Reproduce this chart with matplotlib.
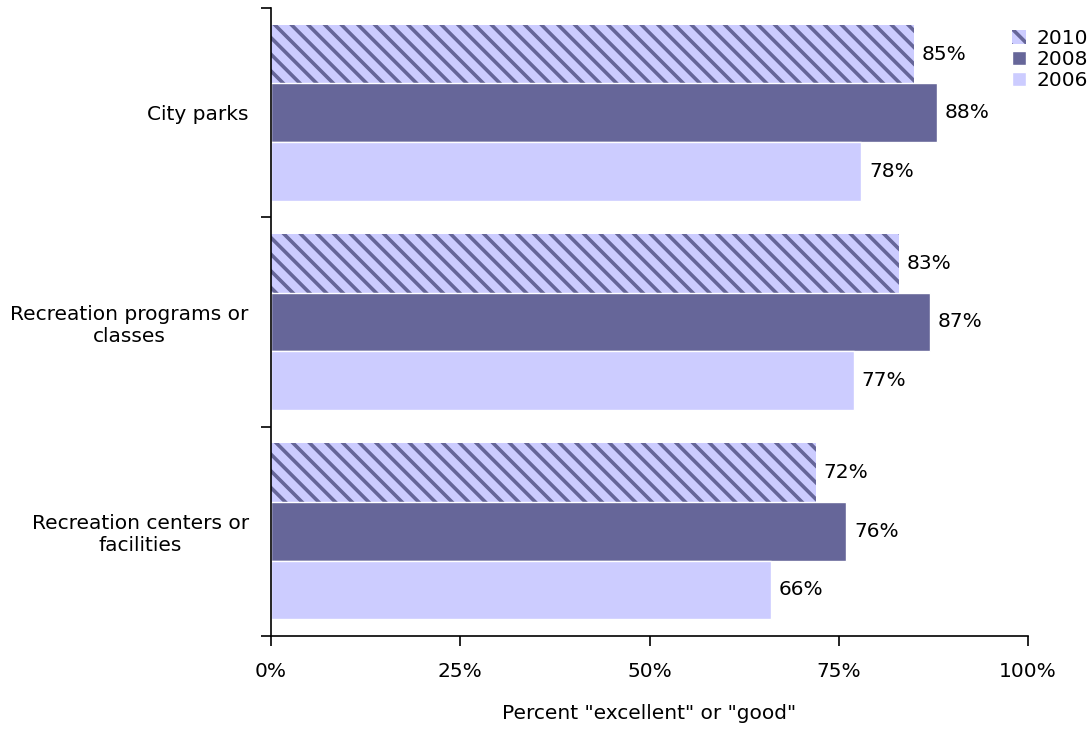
import matplotlib
matplotlib.use('Agg')
import matplotlib.pyplot as plt
import matplotlib.ticker as ticker
import numpy as np

plt.rcParams['hatch.color'] = '#666699'
plt.rcParams['hatch.linewidth'] = 2.6

# --- data ---
categories = ['City parks', 'Recreation programs or\nclasses', 'Recreation centers or\nfacilities']
years = ['2010', '2008', '2006']
vals_2010 = [85, 83, 72]
vals_2008 = [88, 87, 76]
vals_2006 = [78, 77, 66]

series = [
    ('2010', vals_2010, '#CCCCFF', '\\\\'),
    ('2008', vals_2008, '#666699', None),
    ('2006', vals_2006, '#CCCCFF', None),
]

fig = plt.figure(figsize=(10.91, 7.42), dpi=100)
ax = fig.add_axes([0.2484, 0.1429, 0.9423 - 0.2484, 0.9892 - 0.1429])

h = 0.28
y = np.arange(len(categories))
for i, (lab, vals, col, hatch) in enumerate(series):
    pos = y + (i - 1) * h
    ax.barh(pos, vals, height=h, color=col, hatch=hatch,
            edgecolor='white' if hatch is None else '#666699', linewidth=0 if hatch else 1,
            label=lab)
    for p, v in zip(pos, vals):
        ax.text(v + 1.0, p, f'{v}%', va='center', ha='left', fontsize=14.5)

ax.set_xlim(0, 100)
ax.set_ylim(len(categories) - 0.5, -0.5)
ax.set_xticks([0, 25, 50, 75, 100])
ax.xaxis.set_major_formatter(ticker.FuncFormatter(lambda x, _: f'{int(x)}%'))
ax.set_yticks([-0.5, 0.5, 1.5, 2.5])
ax.set_yticklabels([])
ax.set_yticks(y, minor=True)
ax.set_yticklabels(categories, minor=True, fontsize=14.5)
ax.tick_params(axis='y', which='minor', length=0, pad=16)
ax.tick_params(axis='y', which='major', direction='out', length=7, width=1.2)
ax.tick_params(axis='x', direction='out', length=7, width=1.2, labelsize=14.5, pad=12)
for t in ax.get_yticklabels(minor=True):
    t.set_multialignment('center')

for s in ['top', 'right']:
    ax.spines[s].set_visible(False)
for s in ['left', 'bottom']:
    ax.spines[s].set_linewidth(1.2)

ax.set_xlabel('Percent "excellent" or "good"', fontsize=14.5, labelpad=16)

leg = ax.legend(loc='upper left', bbox_to_anchor=(0.968, 0.98), frameon=False,
                fontsize=14.5, handlelength=0.7, handleheight=0.7, handletextpad=0.5,
                labelspacing=0.1, borderaxespad=0)

fig.savefig('out.png', dpi=100)
